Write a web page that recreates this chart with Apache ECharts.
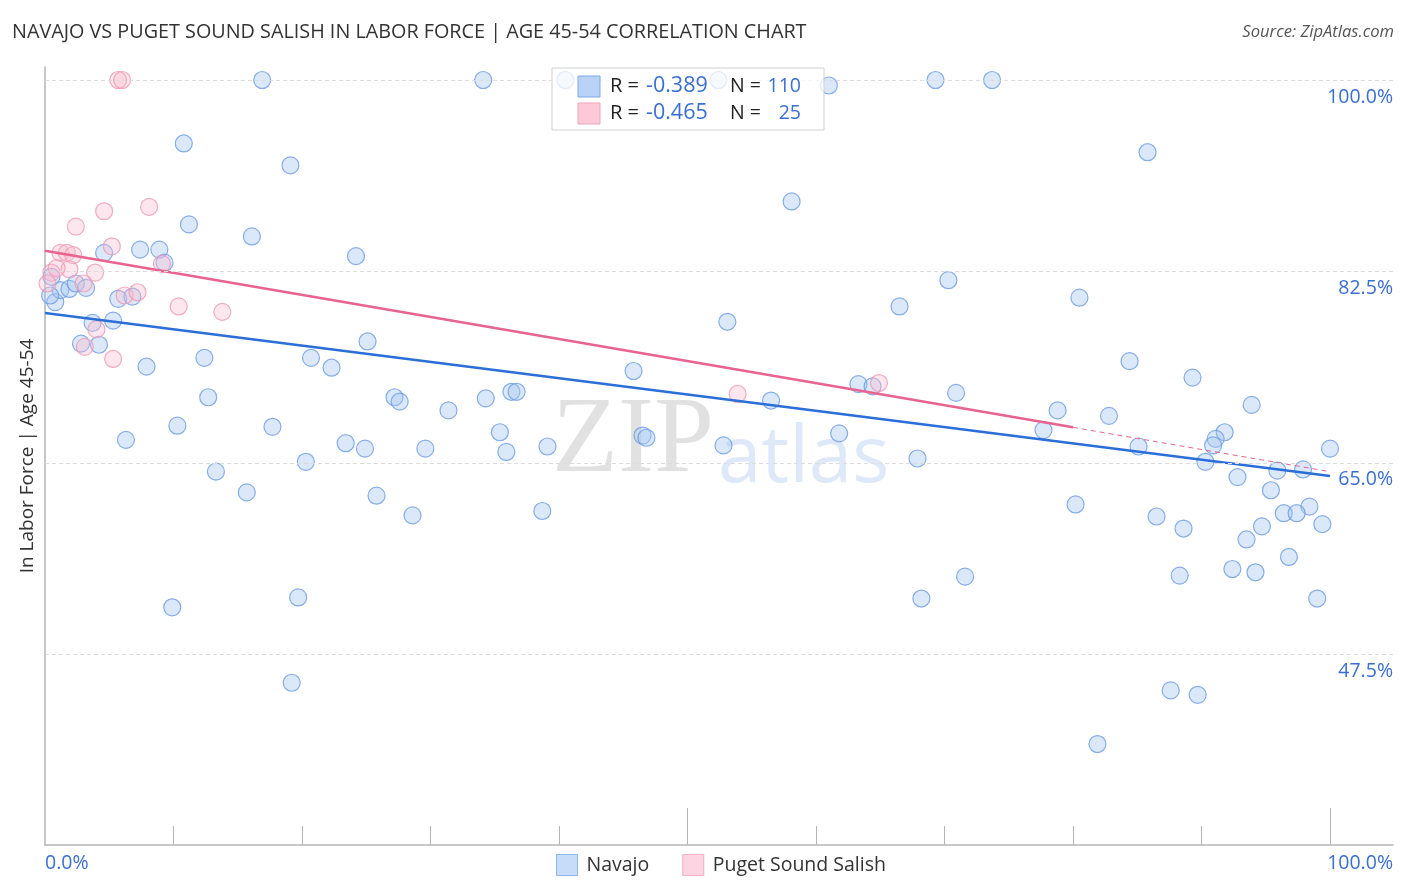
<!DOCTYPE html>
<html><head><meta charset="utf-8">
<script src="https://cdn.jsdelivr.net/npm/echarts@6/dist/echarts.min.js"></script>
<style>html,body{margin:0;padding:0;background:#fff}#c{width:1406px;height:892px}</style>
</head><body><div id="c"></div>
<script>
// ---- data ----
const seriesNames = ['Navajo', 'Puget Sound Salish'];
const navajo = [
[16.9,100],[34.1,100],[40.5,100],[52.4,100],[61.0,99.5],[69.3,100],[73.7,100],
[10.8,94.2],[19.1,92.2],[85.8,93.4],[58.1,88.9],[11.2,86.8],[16.1,85.7],[7.4,84.5],[8.9,84.5],
[4.6,84.2],[24.2,83.9],[9.3,83.3],[70.3,81.7],[80.5,80.1],[66.5,79.3],[53.1,77.9],[25.1,76.1],
[20.7,74.6],[84.4,74.3],[22.3,73.7],[45.8,73.4],[89.3,72.8],[63.3,72.2],[64.4,72.0],[12.7,71.0],
[27.2,71.0],[27.6,70.6],[36.3,71.5],[36.7,71.5],[34.3,70.9],[70.9,71.4],[56.5,70.7],[93.9,70.3],
[31.4,69.8],[78.8,69.8],[82.8,69.3],[10.3,68.4],[17.7,68.3],[6.3,67.1],[35.4,67.8],[23.4,66.8],
[24.9,66.3],[46.5,67.5],[46.8,67.3],[61.8,67.7],[77.7,68.0],[91.8,67.8],[91.1,67.2],[90.9,66.6],
[52.8,66.6],[29.6,66.3],[35.9,66.0],[39.1,66.5],[85.1,66.5],[100.0,66.3],[20.3,65.1],[67.9,65.4],
[13.3,64.2],[90.3,65.1],[95.9,64.3],[97.9,64.4],[92.8,63.7],[15.7,62.3],[25.8,62.0],[95.4,62.5],
[80.2,61.2],[98.4,61.0],[96.4,60.4],[97.4,60.4],[28.6,60.2],[38.7,60.6],[86.5,60.1],[88.6,59.0],
[94.7,59.2],[93.5,58.0],[99.4,59.4],[96.8,56.4],[92.4,55.3],[94.2,55.0],[71.6,54.6],[88.3,54.7],
[19.7,52.7],[68.2,52.6],[99.0,52.6],[9.9,51.8],[19.2,44.9],[87.6,44.2],[89.7,43.8],[81.9,39.3],
[0.8,79.7],[1.2,80.8],[1.9,80.9],[2.4,81.4],[3.2,81.0],[5.7,80.0],[6.8,80.2],[3.7,77.8],
[5.3,78.0],[2.8,75.9],[4.2,75.8],[7.9,73.8],[12.4,74.6],[0.5,82.0],[0.4,80.3]
];
const puget = [
[5.7,100],[6.0,100],[8.1,88.4],[4.6,88.0],[2.4,86.6],[5.2,84.8],[1.2,84.2],[1.7,84.2],
[2.2,84.0],[0.5,82.4],[1.9,82.7],[3.9,82.4],[3.0,81.4],[6.2,80.3],[7.2,80.6],[9.1,83.2],
[10.4,79.3],[13.8,78.8],[4.0,77.2],[3.1,75.6],[5.3,74.5],[53.9,71.3],[64.9,72.3],[0.2,81.4],[0.9,82.8]
];
const navajoTrend = [[0,78.7],[100,63.8]];
const pugetTrendSolid = [[0,84.4],[80,68.25]];
const pugetTrendDashed = [[80,68.25],[100,64.2]];
const yGridValues = [47.5, 65, 82.5, 100];
const yGridLabels = ['47.5%', '65.0%', '82.5%', '100.0%'];
const xTickValues = [10,20,30,40,50,60,70,80,90,100];
const xMajorTickValues = [50,100];
const xLabelValues = [0, 104.9];
const xLabels = ['0.0%', '100.0%'];
const statR = ['-0.389', '-0.465'];
const statN = ['110', '25'];

// ---- styles ----
const FONT = 'Open Sans';
const BLUE_TXT = '#3a6fd2';
const blueFill = 'rgba(165,198,240,0.5)', blueStroke = '#6b9be2';
const pinkFill = 'rgba(250,185,205,0.45)', pinkStroke = '#ec9ab6';

const chart = echarts.init(document.getElementById('c'), null, {renderer: 'canvas'});

const statRows = statR.map((r, i) => {
  const y = 86 + i * 27;
  return [
    {type: 'rect', z: 101, shape: {x: 578, y: y - 10, width: 22, height: 21},
      style: {fill: i === 0 ? '#b8d3f6' : '#fcc9d9', stroke: i === 0 ? '#7ea9e6' : '#f0a3bd', lineWidth: 1}},
    {type: 'text', z: 101, x: 610, y: y, style: {text: 'R =', font: `20px "${FONT}"`, fill: '#222', textVerticalAlign: 'middle'}},
    {type: 'text', z: 101, x: 646, y: y, style: {text: r, font: `21.5px "${FONT}"`, fill: BLUE_TXT, textVerticalAlign: 'middle'}},
    {type: 'text', z: 101, x: 730, y: y, style: {text: 'N =', font: `19.5px "${FONT}"`, fill: '#222', textVerticalAlign: 'middle'}},
    {type: 'text', z: 101, x: 801, y: y, style: {text: statN[i], font: `19.5px "${FONT}"`, fill: BLUE_TXT, textAlign: 'right', textVerticalAlign: 'middle'}}
  ];
}).flat();

const option = {
  backgroundColor: '#fff',
  animation: false,
  title: [
    {text: 'NAVAJO VS PUGET SOUND SALISH IN LABOR FORCE | AGE 45-54 CORRELATION CHART',
      left: 12, top: 22, padding: 0,
      textStyle: {fontFamily: FONT, fontSize: 19.8, fontWeight: 'normal', color: '#333'}},
    {text: 'Source: ZipAtlas.com', right: 12, top: 24, padding: 0,
      textStyle: {fontFamily: FONT, fontSize: 16.6, fontWeight: 'normal', fontStyle: 'italic', color: '#555'}}
  ],
  grid: {left: 45, right: 13, top: 67, bottom: 47, containLabel: false},
  xAxis: [
    {type: 'value', min: 0, max: 104.9, interval: 10,
      axisLine: {show: true, lineStyle: {color: '#b5b5b5', width: 1.5}},
      axisTick: {show: true, inside: true, length: 19, customValues: xTickValues, lineStyle: {color: '#b5b5b5'}},
      axisLabel: {show: true, customValues: xLabelValues, margin: 8,
        formatter: v => xLabels[xLabelValues.indexOf(v)] || '',
        alignMinLabel: 'left', alignMaxLabel: 'right',
        fontFamily: FONT, fontSize: 19.5, color: BLUE_TXT},
      splitLine: {show: false}},
    {type: 'value', min: 0, max: 104.9, interval: 10, position: 'bottom', gridIndex: 0,
      axisLine: {show: false},
      axisTick: {show: true, inside: true, length: 37, customValues: xMajorTickValues, lineStyle: {color: '#b5b5b5'}},
      axisLabel: {show: false}, splitLine: {show: false}}
  ],
  yAxis: {type: 'value', min: 30.07, max: 101.19,
    name: 'In Labor Force | Age 45-54', nameLocation: 'middle', nameGap: 8,
    nameTextStyle: {fontFamily: FONT, fontSize: 19, color: '#333'},
    axisLine: {show: true, lineStyle: {color: '#b5b5b5', width: 1.5}},
    axisTick: {show: false}, axisLabel: {show: false}, splitLine: {show: false}},
  legend: {
    left: 556, top: 854, padding: 0, itemWidth: 21, itemHeight: 21, itemGap: 33,
    textStyle: {fontFamily: FONT, fontSize: 19.5, color: '#333', padding: [0, 0, 0, 4]},
    data: [
      {name: seriesNames[0], icon: 'rect', itemStyle: {color: '#b8d3f6', borderColor: '#7ea9e6', borderWidth: 1}},
      {name: seriesNames[1], icon: 'rect', itemStyle: {color: '#fcc9d9', borderColor: '#f0a3bd', borderWidth: 1}}
    ]
  },
  graphic: [
    {type: 'text', z: -10, x: 552, y: 497, style: {text: 'ZIP', font: '108px "Liberation Serif"', fill: 'rgba(200,200,200,0.55)', textVerticalAlign: 'bottom'}},
    {type: 'text', z: -10, x: 718, y: 499, style: {text: 'atlas', font: '78px "Open Sans"', fill: 'rgba(180,205,240,0.45)', textVerticalAlign: 'bottom'}},
    {type: 'rect', z: 100, shape: {x: 552, y: 68, width: 272, height: 62},
      style: {fill: 'rgba(255,255,255,0.75)', stroke: '#d0d0d0', lineWidth: 1}},
    ...statRows
  ],
  series: [
    {name: 'grid', type: 'line', data: [], z: 1, silent: true,
      markLine: {silent: true, symbol: 'none',
        lineStyle: {color: '#dcdcdc', type: [4, 3], width: 1},
        label: {show: true, position: 'insideEndBottom', distance: [0, 7], fontFamily: FONT, fontSize: 19.5, color: BLUE_TXT,
          formatter: p => yGridLabels[yGridValues.indexOf(p.value)]},
        data: yGridValues.map(v => ({yAxis: v}))}},
    {name: seriesNames[0], type: 'scatter', data: navajo, symbolSize: 17, z: 3,
      itemStyle: {color: blueFill, borderColor: blueStroke, borderWidth: 1.2}},
    {name: seriesNames[1], type: 'scatter', data: puget, symbolSize: 17, z: 3,
      itemStyle: {color: pinkFill, borderColor: pinkStroke, borderWidth: 1.2}},
    {name: 'navajoTrend', type: 'line', data: navajoTrend, symbol: 'none', z: 4,
      lineStyle: {color: '#2a6ed8', width: 2.5}},
    {name: 'pugetTrend', type: 'line', data: pugetTrendSolid, symbol: 'none', z: 4,
      lineStyle: {color: '#e8638e', width: 2.5}},
    {name: 'pugetTrendDashed', type: 'line', data: pugetTrendDashed, symbol: 'none', z: 4,
      lineStyle: {color: '#e8638e', width: 1, type: [5, 4]}}
  ]
};
chart.setOption(option);
</script></body></html>
